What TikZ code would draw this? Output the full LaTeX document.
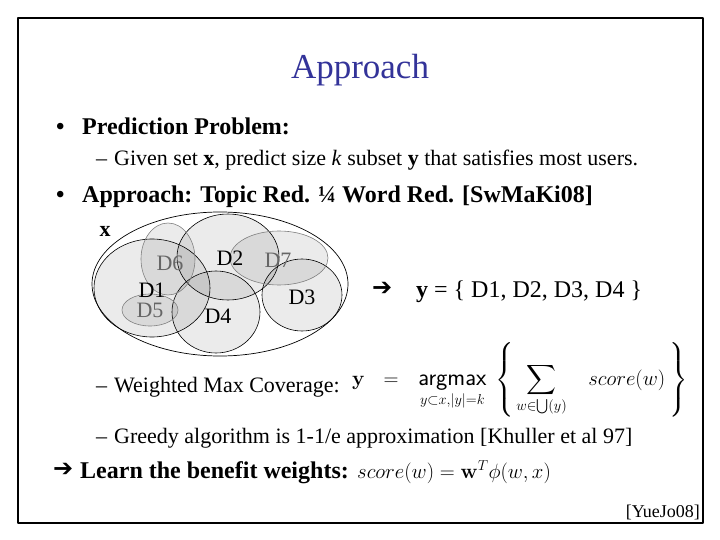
\documentclass[tikz,border=0pt]{standalone}
\usepackage[no-math]{fontspec}
\usepackage{amsmath}
\setmainfont{Liberation Serif}
\newfontfamily\arrowfont{DejaVu Sans}
\definecolor{title_blue}{RGB}{51,51,153}
\colorlet{set_fill}{black}
\colorlet{dark_line}{black}
\colorlet{pale_line}{black!50}
\colorlet{pale_text}{black!60}

\tikzset{
  txt/.style={inner sep=0pt,anchor=base west},
  lvlone/.style={txt,font=\fontsize{24}{28}\selectfont\bfseries},
  lvltwo/.style={txt,font=\fontsize{22}{26}\selectfont},
  subset/.style={fill=set_fill,fill opacity=0.08,line width=0.6pt},
  setlabel/.style={inner sep=0pt,font=\fontsize{22}{24}\selectfont}
}

\begin{document}
\begin{tikzpicture}[x=1pt,y=-1pt,line cap=round,line join=round]
\useasboundingbox (0,0) rectangle (720,540);
\draw[line width=1.2pt] (18,18) rectangle (703,523);

% Title
\node[inner sep=0pt,anchor=base,text=title_blue,font=\fontsize{35}{40}\selectfont] (title) at (360,79) {Approach};

%-----------------------------------------------
\node[lvlone] (bulletA) at (56,135) {\textbullet};
\node[lvlone] (predict) at (82,135) {Prediction Problem:};
\node[lvltwo] (dashA) at (96,166) {--};
\node[lvltwo] (given) at (114,166) {Given set \textbf{x}, predict size \textit{k} subset \textbf{y} that satisfies most users.};

\node[lvlone] (bulletB) at (56,203) {\textbullet};
\node[lvlone] (approach) at (82,203) {Approach: Topic Red. ¼ Word Red. [SwMaKi08]};

%-----------------------------------------------
% Define the set centres as coordinates
\coordinate (X) at (220,284);
\coordinate (D1) at (152,288);
\coordinate (D2) at (228,257);
\coordinate (D3) at (302,295);
\coordinate (D4) at (216,312);
\coordinate (D5) at (150,310);
\coordinate (D6) at (168,259);
\coordinate (D7) at (279,258);

\draw[line width=0.7pt] (X) ellipse [x radius=128pt, y radius=72pt];
\foreach \set/\rx/\ry/\col in {D1/58/49/dark_line,D2/51/43/dark_line,D3/40/36/dark_line,
  D4/44/41/dark_line,D5/28/16/pale_line,D6/27/36/pale_line,D7/49/27/pale_line}
{
  \filldraw[subset,draw=\col] (\set) ellipse [x radius=\rx pt, y radius=\ry pt];
}

% Label the sets
\node[inner sep=0pt,font=\fontsize{22}{24}\selectfont\bfseries] (xlabel) at (105,231) {x};
\foreach \set/\lx/\ly/\col in {D6/170/263/pale_text,D2/230/258/black,D7/278/260/pale_text,
  D1/152/290/black,D5/150/310/pale_text,D4/218/316/black,D3/302/297/black}
{
  \node[setlabel,text=\col] (lbl\set) at (\lx,\ly) {\set};
}

\node[inner sep=0pt,anchor=west,font=\arrowfont\bfseries\fontsize{24}{26}\selectfont] (arrowA) at (372,289) {➔};
\node[txt,font=\fontsize{24}{28}\selectfont] (chosen) at (416,297) {\textbf{y} = \{ D1, D2, D3, D4 \}};

%-----------------------------------------------
\node[lvltwo] (dashB) at (96,392) {--};
\node[lvltwo] (coverage) at (114,392) {Weighted Max Coverage:};
\node[txt,font=\fontsize{20}{24}\selectfont] (argmax) at (352,385)
  {$\displaystyle \mathbf{y}\hspace{13pt}=\hspace{14pt}\mathop{\text{\fontsize{24}{28}\selectfont\sffamily argmax}}\limits_{y\subset x,|y|=k}
   \hspace{6pt}\left\{\hspace{2pt}\sum_{w\in\bigcup(y)}\hspace{18pt} score(w)\hspace{4pt}\right\}$};

\node[lvltwo] (dashC) at (96,443) {--};
\node[lvltwo] (greedy) at (114,443) {Greedy algorithm is 1-1/e approximation [Khuller et al 97]};

\node[inner sep=0pt,anchor=west,font=\arrowfont\bfseries\fontsize{24}{26}\selectfont] (arrowB) at (53,470) {➔};
\node[lvlone] (learn) at (80,478) {Learn the benefit weights:};
\node[txt,font=\fontsize{22.5}{27}\selectfont] (scorefn) at (357,478) {$score(w) = \mathbf{w}^T\phi(w,x)$};

\node[inner sep=0pt,anchor=base east,font=\fontsize{18}{22}\selectfont] (cite) at (700,517) {[YueJo08]};
\end{tikzpicture}
\end{document}
